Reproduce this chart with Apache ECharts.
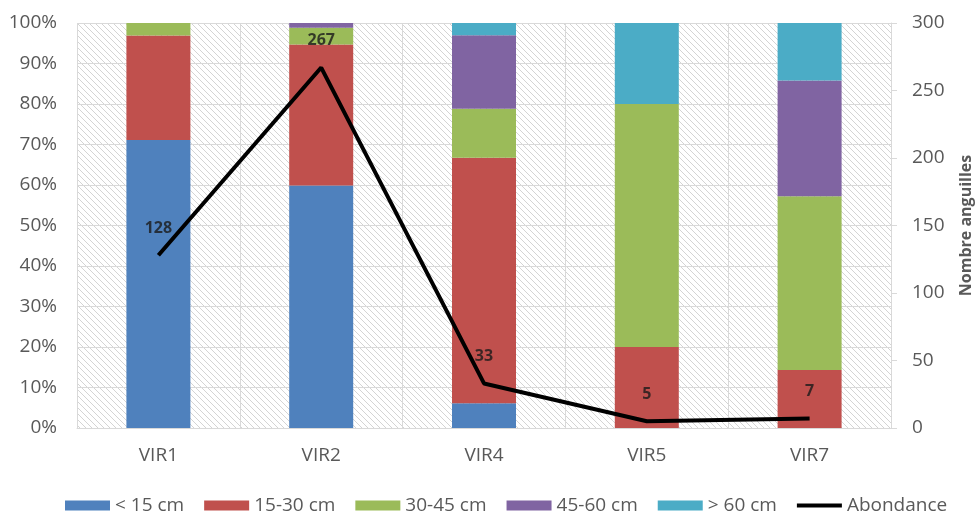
<!DOCTYPE html>
<html>
<head>
<meta charset="utf-8">
<script src="https://cdn.jsdelivr.net/npm/echarts@6/dist/echarts.min.js"></script>
<style>html,body{margin:0;padding:0;background:#fff}#c{width:978px;height:515px}</style>
</head>
<body>
<div id="c"></div>
<script>
const categories = ['VIR1', 'VIR2', 'VIR4', 'VIR5', 'VIR7'];
const seriesNames = ['< 15 cm', '15-30 cm', '30-45 cm', '45-60 cm', '> 60 cm'];
const lt15 = [71.1, 59.9, 6.1, 0, 0];
const c15_30 = [25.8, 34.8, 60.6, 20, 14.3];
const c30_45 = [3.1, 4.1, 12.1, 60, 42.9];
const c45_60 = [0, 1.2, 18.2, 0, 28.6];
const gt60 = [0, 0, 3.0, 20, 14.2];
const abondance = [128, 267, 33, 5, 7];
const leftTicks = [0, 10, 20, 30, 40, 50, 60, 70, 80, 90, 100];
const rightTicks = [0, 50, 100, 150, 200, 250, 300];

const colors = ['#4F81BD', '#C0504D', '#9BBB59', '#8064A2', '#4BACC6'];
const FONT = '"Open Sans", sans-serif';
const GREY = '#595959';

// hatch pattern
const T = 6;
const tile = document.createElement('canvas');
tile.width = T; tile.height = T;
const tc = tile.getContext('2d');
tc.fillStyle = '#ffffff';
tc.fillRect(0, 0, T, T);
tc.strokeStyle = '#d4d4d4';
tc.lineWidth = 1;
tc.beginPath();
tc.moveTo(-1, -1); tc.lineTo(T + 1, T + 1);
tc.moveTo(-1, T - 1); tc.lineTo(1, T + 1);
tc.moveTo(T - 1, -1); tc.lineTo(T + 1, 1);
tc.stroke();

const chart = echarts.init(document.getElementById('c'), null, {renderer: 'canvas'});
const barData = [lt15, c15_30, c30_45, c45_60, gt60];
const series = barData.map((d, i) => ({
  name: seriesNames[i],
  type: 'bar',
  stack: 'pct',
  data: d,
  barWidth: 64,
  itemStyle: {color: colors[i]},
  emphasis: {disabled: true}
}));
series.push({
  name: 'Abondance',
  type: 'line',
  yAxisIndex: 1,
  data: abondance,
  symbol: 'none',
  lineStyle: {color: '#000', width: 4},
  itemStyle: {color: '#000'},
  z: 5
});
series.push({
  type: 'scatter',
  yAxisIndex: 1,
  data: abondance,
  symbolSize: 0.01,
  itemStyle: {color: 'rgba(0,0,0,0)'},
  z: 6,
  silent: true,
  label: {
    show: true,
    position: 'top',
    distance: 19,
    fontFamily: FONT,
    fontWeight: 'bold',
    fontSize: 16,
    color: '#1a1a1a'
  }
});

chart.setOption({
  animation: false,
  backgroundColor: '#fff',
  grid: {
    left: 77, right: 87, top: 23, bottom: 87,
    show: true,
    borderWidth: 0,
    outerBoundsMode: 'none',
    containLabel: false,
    backgroundColor: {image: tile, repeat: 'repeat'}
  },
  legend: {
    left: 60, top: 491,
    itemWidth: 45, itemHeight: 10,
    itemGap: 20,
    textStyle: {fontFamily: FONT, fontSize: 19, color: GREY},
    data: seriesNames.map((n) => ({name: n, icon: 'rect'})).concat([
      {name: 'Abondance', icon: 'path://M0,0 H45 V4 H0 Z', itemStyle: {color: '#000'}}
    ])
  },
  xAxis: {
    type: 'category',
    data: categories,
    axisLine: {lineStyle: {color: '#d9d9d9', width: 1}},
    axisTick: {show: false},
    splitLine: {show: true, lineStyle: {color: '#d9d9d9', width: 1}},
    axisLabel: {fontFamily: FONT, fontSize: 19, color: GREY, margin: 18}
  },
  yAxis: [{
    type: 'value',
    min: leftTicks[0], max: leftTicks[leftTicks.length - 1], interval: 10,
    axisLine: {show: false},
    axisTick: {show: false},
    splitLine: {lineStyle: {color: '#d9d9d9', width: 1}},
    axisLabel: {formatter: '{value}%', fontFamily: FONT, fontSize: 19, color: GREY, margin: 20}
  }, {
    type: 'value',
    position: 'right',
    min: rightTicks[0], max: rightTicks[rightTicks.length - 1], interval: 50,
    name: 'Nombre anguilles',
    nameLocation: 'middle',
    nameRotate: 90,
    nameGap: 67,
    nameTextStyle: {fontFamily: FONT, fontSize: 16, fontWeight: 'bold', color: GREY},
    axisLine: {show: true, lineStyle: {color: '#d9d9d9'}},
    axisTick: {show: true, length: 6, lineStyle: {color: '#d9d9d9'}},
    splitLine: {show: false},
    axisLabel: {fontFamily: FONT, fontSize: 19, color: GREY, margin: 21}
  }],
  series: series
});
</script>
</body>
</html>
